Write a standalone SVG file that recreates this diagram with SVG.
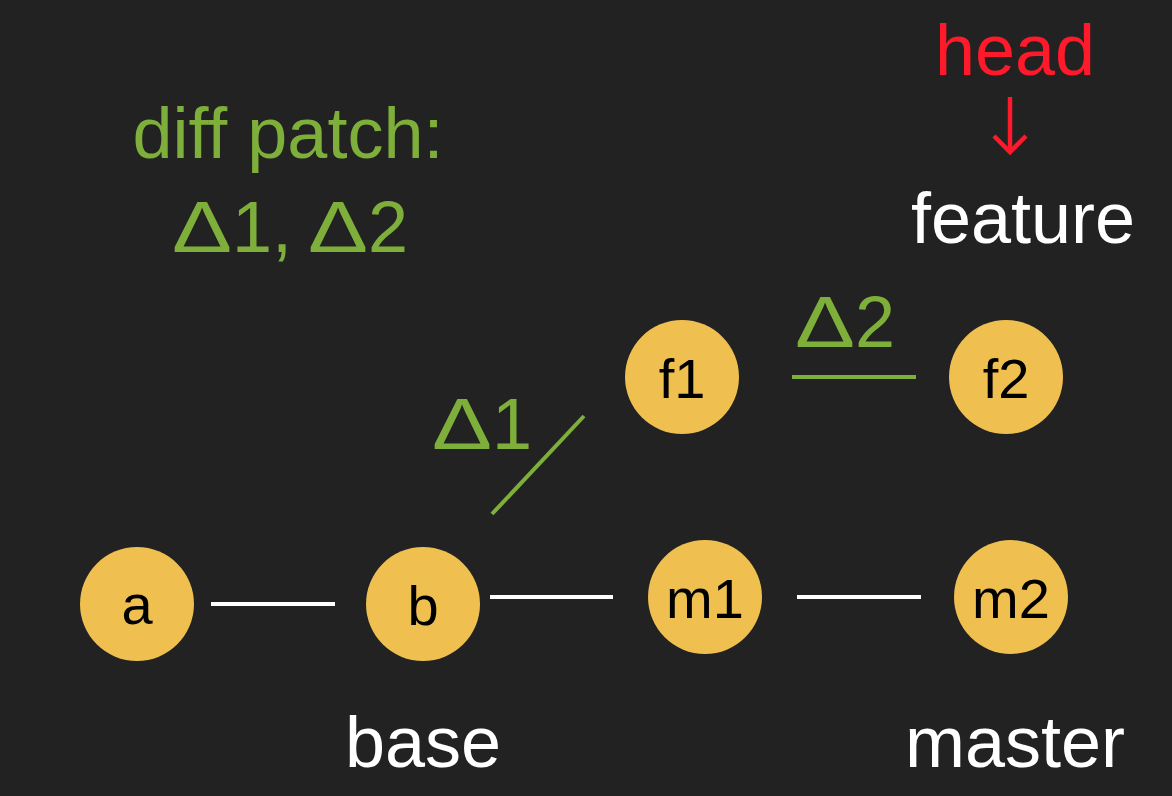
<svg xmlns="http://www.w3.org/2000/svg" width="1172" height="796" viewBox="0 0 1172 796">
<style>
.node circle{fill:#EFBF50}
.node text{font-family:"Liberation Sans",Arial,sans-serif;font-size:56px;fill:#000;text-anchor:middle}
.lbl{font-family:"Liberation Sans",Arial,sans-serif;font-size:72px;text-anchor:middle}
.w{fill:#FFFFFF}
.g{fill:#7FAF3B}
.r{fill:#FF1A2B}
.edge{stroke:#FFFFFF;stroke-width:4;fill:none}
.delta{stroke:#7FAF3B;stroke-width:4;fill:none}
.ptr{stroke:#FF1A2B;stroke-width:4.5;fill:none}
</style>
<defs>
<marker id="chev" markerUnits="userSpaceOnUse" viewBox="-20 -20 24 40" refX="0" refY="0" markerWidth="24" markerHeight="40" orient="auto">
<path d="M-16,-16 L0,0 L-16,16" fill="none" stroke="#FF1A2B" stroke-width="4.5"/>
</marker>
</defs>
<rect x="0" y="0" width="1172" height="796" fill="#222222"/>
<g id="connectors">
<line class="edge" x1="211" y1="604" x2="335" y2="604"/>
<line class="edge" x1="490" y1="597" x2="613" y2="597"/>
<line class="edge" x1="797" y1="597" x2="921" y2="597"/>
<line class="delta" x1="492" y1="514" x2="584" y2="416"/>
<line class="delta" x1="792" y1="377" x2="916" y2="377"/>
<line class="ptr" x1="1010" y1="97" x2="1010" y2="152" marker-end="url(#chev)"/>
</g>
<g id="node-a" class="node"><circle cx="137" cy="604" r="57"/><text x="137" y="624">a</text></g>
<g id="node-b" class="node"><circle cx="423" cy="604" r="57"/><text x="423" y="625">b</text></g>
<g id="node-m1" class="node"><circle cx="705" cy="597" r="57"/><text x="705" y="618">m1</text></g>
<g id="node-m2" class="node"><circle cx="1011" cy="597" r="57"/><text x="1011" y="618">m2</text></g>
<g id="node-f1" class="node"><circle cx="682" cy="377" r="57"/><text x="682" y="398">f1</text></g>
<g id="node-f2" class="node"><circle cx="1006" cy="377" r="57"/><text x="1006" y="398">f2</text></g>
<g id="labels">
<text class="lbl g" x="288" y="158">diff patch:</text>
<text class="lbl g" x="290" y="252"><tspan textLength="60" lengthAdjust="spacingAndGlyphs">Δ</tspan>1, <tspan textLength="60" lengthAdjust="spacingAndGlyphs">Δ</tspan>2</text>
<text class="lbl g" x="482" y="449"><tspan textLength="60" lengthAdjust="spacingAndGlyphs">Δ</tspan>1</text>
<text class="lbl g" x="845" y="347"><tspan textLength="60" lengthAdjust="spacingAndGlyphs">Δ</tspan>2</text>
<text class="lbl r" x="1015" y="75">head</text>
<text class="lbl w" x="1023" y="243">feature</text>
<text class="lbl w" x="423" y="767">base</text>
<text class="lbl w" x="1015" y="767">master</text>
</g>
</svg>
